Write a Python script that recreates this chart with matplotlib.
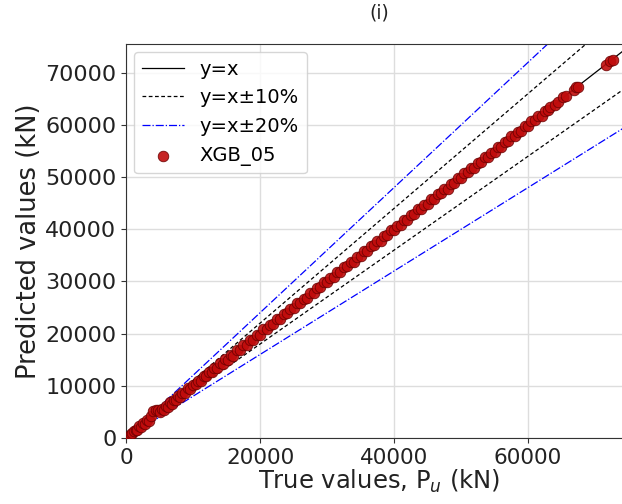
import matplotlib.pyplot as plt
import numpy as np

# values (kN)
true_vals = [200, 450, 700, 950, 1200, 1450, 1700, 2000, 2300, 2600,
             2900, 3200, 3500, 3800, 4100, 4400, 4700, 5000, 5300, 5600,
             5900, 6200, 6500, 6800, 7100, 7400, 7700, 8000, 8400, 8800,
             9200, 9600, 10000, 10400, 10800, 11200, 11600, 12000, 12400, 12800,
             13200, 13600, 14000, 14400, 14800, 15200, 15600, 16000, 16500, 17000,
             17500, 18000, 18500, 19000, 19500, 20000, 20500, 21000, 21500, 22000,
             22500, 23000, 23500, 24000, 24500, 25000, 25500, 26000, 26500, 27000,
             27500, 28000, 28500, 29000, 29500, 30000, 30500, 31000, 31500, 32000,
             32500, 33000, 33500, 34000, 34500, 35000, 35500, 36000, 36500, 37000,
             37500, 38000, 38500, 39000, 39500, 40000, 40500, 41000, 41500, 42000,
             42500, 43000, 43500, 44000, 44500, 45000, 45500, 46000, 46500, 47000,
             47500, 48000, 48500, 49000, 49500, 50000, 50500, 51000, 51500, 52000,
             52500, 53000, 53500, 54000, 54500, 55000, 55500, 56000, 56500, 57000,
             57500, 58000, 58500, 59000, 59500, 60000, 60500, 61000, 61500, 62000,
             62500, 63000, 63300, 64000, 64400, 65200, 65600, 66800, 67100, 67500,
             71600, 72200, 72600]
pred_vals = [250, 400, 800, 900, 1350, 1550, 1600, 2200, 2150, 2800,
             2700, 3500, 3300, 4200, 5100, 5400, 5300, 4900, 5600, 5400,
             6100, 6000, 6800, 6600, 7300, 7200, 8000, 7900, 8700, 8600,
             9500, 9400, 10200, 10300, 11000, 11000, 11900, 11800, 12700, 12600,
             13500, 13400, 14300, 14200, 15100, 15000, 15900, 15800, 16800, 16800,
             17800, 17800, 18800, 18800, 19700, 19800, 20800, 20800, 21700, 21900,
             22800, 22800, 23700, 23900, 24700, 24900, 25800, 25800, 26700, 26900,
             27800, 27800, 28700, 28900, 29800, 29800, 30700, 30900, 31800, 31800,
             32700, 32900, 33800, 33800, 34700, 34900, 35800, 35800, 36700, 36900,
             37800, 37800, 38700, 38900, 39800, 39800, 40700, 40900, 41800, 41800,
             42700, 42900, 43800, 43800, 44700, 44900, 45800, 45800, 46700, 46900,
             47800, 47800, 48700, 48900, 49800, 49800, 50700, 50900, 51800, 51800,
             52700, 52900, 53800, 53800, 54700, 54900, 55800, 55800, 56700, 56900,
             57800, 57800, 58700, 58900, 59800, 59800, 60700, 60900, 61800, 61800,
             62600, 62900, 63400, 63900, 64300, 65300, 65500, 66700, 67200, 67300,
             71400, 72300, 72500]
model_name = 'XGB_05'
panel = '(i)'

lim = max(max(true_vals), max(pred_vals)) * 1.04

fig = plt.figure(figsize=(6.22, 5.04), dpi=100)
ax = fig.add_axes([0.2026, 0.131, 0.8135, 0.7817])

ref = np.array([0, lim])
ax.plot(ref, ref, color='black', lw=0.9, label='y=x')
ax.plot(ref, ref * 1.1, color='black', lw=0.9, ls=(0, (3, 2)), label='y=x\u00b110%')
ax.plot(ref, ref * 0.9, color='black', lw=0.9, ls=(0, (3, 2)))
ax.plot(ref, ref * 1.2, color='blue', lw=0.9, ls='-.', label='y=x\u00b120%')
ax.plot(ref, ref * 0.8, color='blue', lw=0.9, ls='-.')
ax.scatter(true_vals, pred_vals, s=58, color='#c00c0c', edgecolor='#6a0000',
           linewidth=0.6, alpha=0.9, label=model_name, zorder=3)

ax.set_xlim(0, lim)
ax.set_ylim(0, lim)
ax.set_xticks([0, 20000, 40000, 60000])
ax.set_yticks(range(0, 70001, 10000))
ax.grid(True, color='#dddddd', lw=1)
ax.set_axisbelow(True)
ax.tick_params(labelsize=15.5, colors='#333333', labelcolor='#222222')
ax.tick_params(axis='y', labelsize=16)
for s in ax.spines.values():
    s.set_color('#333333')

ax.set_xlabel('True values, P$_u$ (kN)', fontsize=17.5, labelpad=0, color='#222222')
ax.set_ylabel('Predicted values (kN)', fontsize=18.5, labelpad=2, color='#222222')
ax.set_title(panel, fontsize=13.5, pad=18, color='#222222')
ax.legend(loc='upper left', fontsize=14, handlelength=2.2, borderaxespad=0.4)

fig.savefig('out.png', dpi=100)
